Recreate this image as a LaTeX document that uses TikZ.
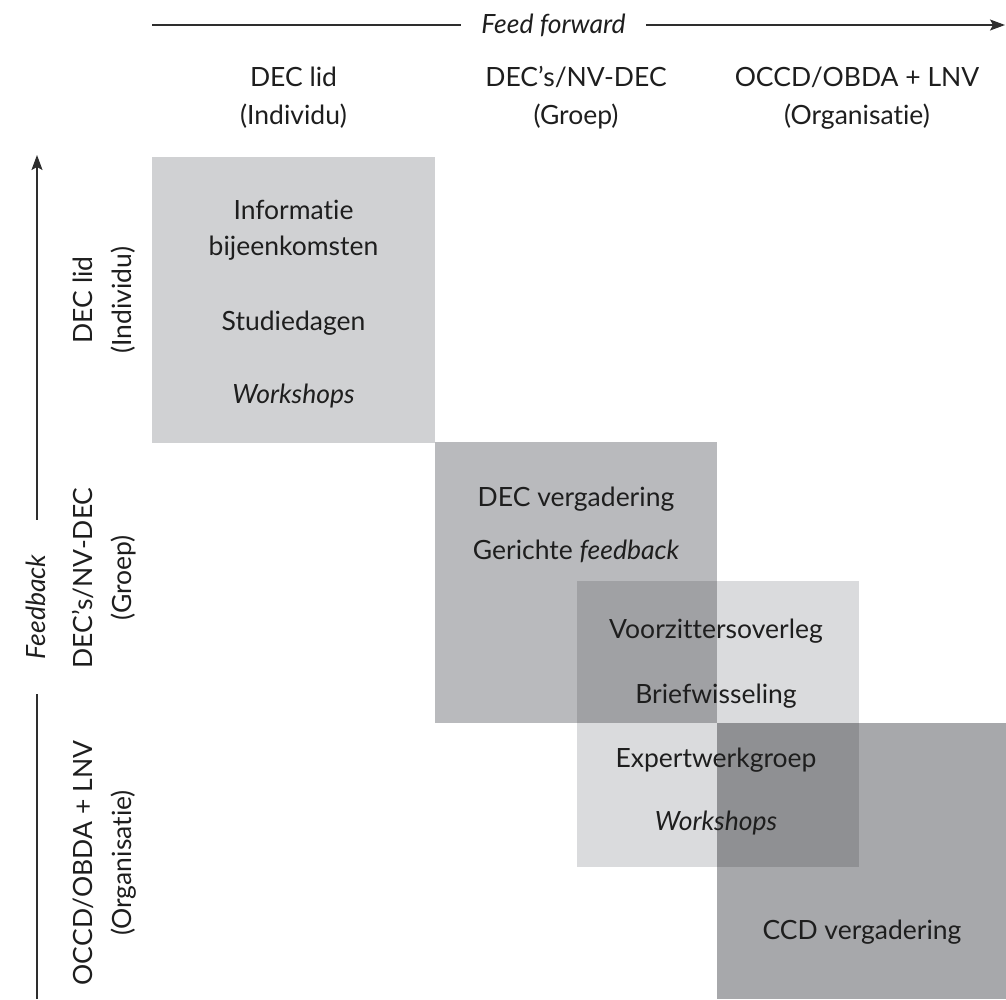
\documentclass[tikz,border=0pt]{standalone}
\usepackage{fontspec}
\setmainfont{Lato}[Ligatures=NoCommon]
\usetikzlibrary{arrows.meta}

\definecolor{inktext}{HTML}{1E1E1E}
\definecolor{axisline}{HTML}{2E2E2E}
\definecolor{shadeA}{HTML}{D0D1D3}
\definecolor{shadeB}{HTML}{B9BABD}
\definecolor{shadeC}{HTML}{DADBDD}
\definecolor{shadeD}{HTML}{A7A8AB}
\definecolor{shadeBC}{HTML}{A0A1A4}
\definecolor{shadeCD}{HTML}{8F9093}

\tikzset{
  panel/.style={anchor=north west, inner sep=0pt, outer sep=0pt, draw=none},
  lbl/.style={anchor=base, inner sep=0pt, text=inktext,
    font=\fontsize{26.5}{38}\selectfont},
  vlbl/.style={lbl, rotate=90},
  axis/.style={draw=axisline, line width=1.3pt},
  axisarrow/.style={axis, -{Stealth[length=15pt,width=11pt,inset=3pt]}},
}

\begin{document}
\begin{tikzpicture}[x=1pt, y=-1pt]
  \useasboundingbox (0,0) rectangle (1006,999);

  % shaded panels along the diagonal
  \node[panel, fill=shadeA, minimum width=283pt, minimum height=286pt] (pA) at (152,157) {};
  \node[panel, fill=shadeB, minimum width=282pt, minimum height=281pt] (pB) at (435,442) {};
  \node[panel, fill=shadeC, minimum width=282pt, minimum height=286pt] (pC) at (577,581) {};
  \node[panel, fill=shadeD, minimum width=289pt, minimum height=276pt] (pD) at (717,723) {};
  % overlapping parts of the panels
  \node[panel, fill=shadeBC, minimum width=140pt, minimum height=142pt] (pBC) at (577,581) {};
  \node[panel, fill=shadeCD, minimum width=142pt, minimum height=144pt] (pCD) at (717,723) {};

  % horizontal axis: feed forward
  \coordinate (ffstart) at (152,25);
  \coordinate (ffend) at (1005,25);
  \node[lbl, font=\fontsize{26.5}{38}\selectfont\itshape, inner xsep=20pt] (ff) at (553.5,33) {Feed forward};
  \draw[axis] (ffstart) -- (ffstart -| ff.west);
  \draw[axisarrow] (ffend -| ff.east) -- (ffend);

  % vertical axis: feedback
  \coordinate (fbstart) at (37,999);
  \coordinate (fbend) at (37,155);
  \node[vlbl, font=\fontsize{26.5}{38}\selectfont\itshape, inner xsep=35pt] (fb) at (45,607) {Feedback};
  \draw[axis] (fbstart) -- (fbstart |- fb.west);
  \draw[axisarrow] (fbend |- fb.east) -- (fbend);

  % column headings
  \node[lbl] (h1a) at (293.5,86) {DEC lid};
  \node[lbl] (h1b) at (293.5,124) {(Individu)};
  \node[lbl] (h2a) at (576,86) {DEC’s/NV-DEC};
  \node[lbl] (h2b) at (576,124) {(Groep)};
  \node[lbl] (h3a) at (857,86) {OCCD/OBDA + LNV};
  \node[lbl] (h3b) at (857,124) {(Organisatie)};

  % row headings
  \node[vlbl] (r1a) at (92,300) {DEC lid};
  \node[vlbl] (r1b) at (131,300) {(Individu)};
  \node[vlbl] (r2a) at (92,578) {DEC’s/NV-DEC};
  \node[vlbl] (r2b) at (131,578) {(Groep)};
  \node[vlbl] (r3a) at (92,863) {OCCD/OBDA + LNV};
  \node[vlbl] (r3b) at (131,863) {(Organisatie)};

  % individual level
  \node[lbl] (t1) at (293.5,219) {Informatie};
  \node[lbl] (t2) at (293.5,255) {bijeenkomsten};
  \node[lbl] (t3) at (293.5,330) {Studiedagen};
  \node[lbl] (t4) at (293.5,403) {\itshape Workshops};

  % group level
  \node[lbl] (t5) at (576,506) {DEC vergadering};
  \node[lbl] (t6) at (576,559) {Gerichte \itshape feedback};

  % between group and organisation
  \node[lbl] (t7) at (716,638) {Voorzittersoverleg};
  \node[lbl] (t8) at (716,703) {Briefwisseling};
  \node[lbl] (t9) at (716,767) {Expertwerkgroep};
  \node[lbl] (t10) at (716,830) {\itshape Workshops};

  % organisation level
  \node[lbl] (t11) at (862,939) {CCD vergadering};
\end{tikzpicture}
\end{document}
